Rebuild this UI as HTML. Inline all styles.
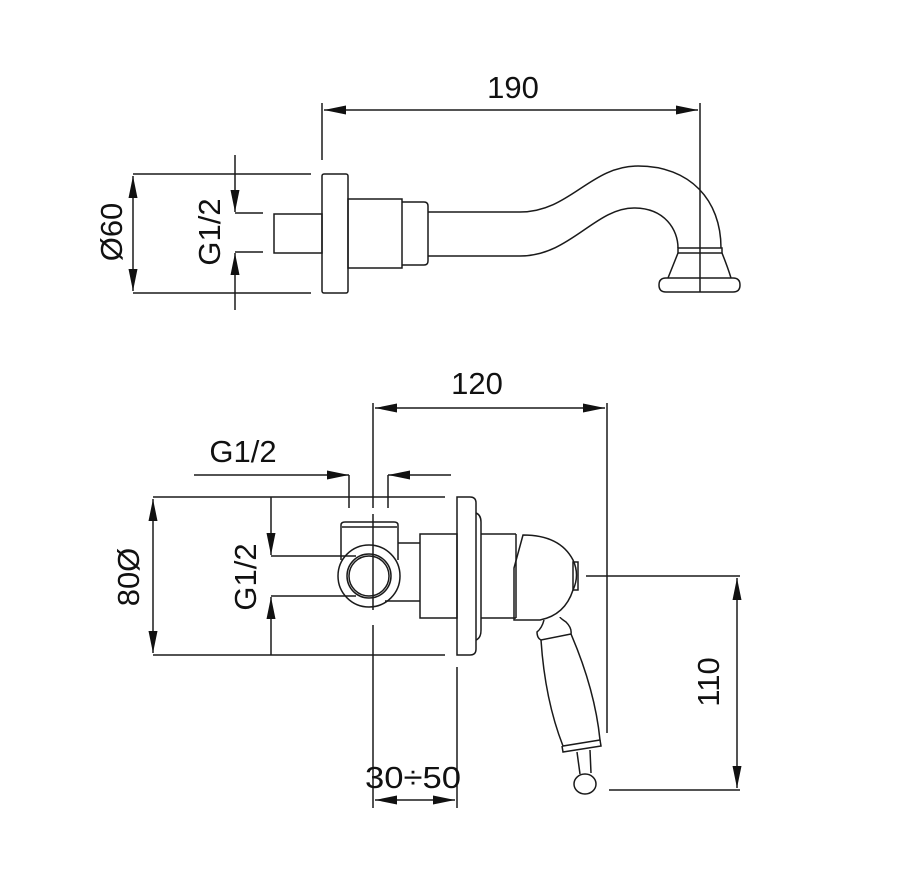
<!DOCTYPE html>
<html><head><meta charset="utf-8"><style>
html,body{margin:0;padding:0;background:#fff;width:900px;height:889px;overflow:hidden}
svg{display:block}
text{font-family:"Liberation Sans",sans-serif;font-size:31px;fill:#111}
</style></head><body>
<svg width="900" height="889" viewBox="0 0 900 889" xmlns="http://www.w3.org/2000/svg">
<defs>
<marker id="a" viewBox="0 0 22 9" refX="22" refY="4.5" markerWidth="22" markerHeight="9" markerUnits="userSpaceOnUse" orient="auto"><path d="M0,0 L22,4.5 L0,9 z" fill="#111"/></marker>
</defs>
<g fill="none" stroke="#1a1a1a" stroke-width="1.5">
<line x1="322" y1="103" x2="322" y2="160"/>
<line x1="700" y1="103" x2="700" y2="292"/>
<line x1="511" y1="110" x2="324" y2="110" marker-end="url(#a)"/>
<line x1="511" y1="110" x2="698" y2="110" marker-end="url(#a)"/>
<line x1="133" y1="174" x2="311" y2="174"/>
<line x1="133" y1="293" x2="311" y2="293"/>
<line x1="133" y1="233" x2="133" y2="176" marker-end="url(#a)"/>
<line x1="133" y1="233" x2="133" y2="291" marker-end="url(#a)"/>
<line x1="235" y1="155" x2="235" y2="212" marker-end="url(#a)"/>
<line x1="235" y1="310" x2="235" y2="253" marker-end="url(#a)"/>
<line x1="235" y1="213" x2="263" y2="213"/>
<line x1="235" y1="252" x2="263" y2="252"/>
<rect x="274" y="214" width="48" height="39"/>
<rect x="322" y="174" width="26" height="119" rx="2"/>
<rect x="348" y="199" width="54" height="69"/>
<path d="M402,202 H424 Q428,202 428,206 V261 Q428,265 424,265 H402"/>
<path d="M428,212 H520 C570,212 590,166 638,166 C690,166 721,200 721,248"/>
<path d="M428,256 H520 C570,256 595,208 634,208 C665,208 678,230 678,248"/>
<rect x="678" y="248" width="44" height="5"/>
<path d="M678,253 Q672,268 668,278 M722,253 Q728,268 731,278"/>
<path d="M666,278 H733 Q740,278 740,285 Q740,292 733,292 H666 Q659,292 659,285 Q659,278 666,278 Z"/>
<line x1="373" y1="403" x2="373" y2="508"/>
<line x1="373" y1="514" x2="373" y2="610"/>
<line x1="373" y1="625" x2="373" y2="808"/>
<line x1="607" y1="403" x2="607" y2="733"/>
<line x1="490" y1="408" x2="375" y2="408" marker-end="url(#a)"/>
<line x1="490" y1="408" x2="605" y2="408" marker-end="url(#a)"/>
<line x1="194" y1="475" x2="349" y2="475" marker-end="url(#a)"/>
<line x1="451" y1="475" x2="388" y2="475" marker-end="url(#a)"/>
<line x1="349" y1="475" x2="349" y2="508"/>
<line x1="388" y1="475" x2="388" y2="508"/>
<line x1="153" y1="497" x2="445" y2="497"/>
<line x1="153" y1="655" x2="445" y2="655"/>
<line x1="153" y1="576" x2="153" y2="499" marker-end="url(#a)"/>
<line x1="153" y1="576" x2="153" y2="653" marker-end="url(#a)"/>
<line x1="271" y1="497" x2="271" y2="555" marker-end="url(#a)"/>
<line x1="271" y1="655" x2="271" y2="597" marker-end="url(#a)"/>
<line x1="271" y1="556" x2="356" y2="556"/>
<line x1="271" y1="596" x2="356" y2="596"/>
<path d="M457,497 H470 Q476,497 476,503 V649 Q476,655 470,655 H457 Z"/>
<path d="M476,513 Q481,515 481,522 V630 Q481,638 476,640"/>
<path d="M341,560 V525 Q341,522 345,522 H394 Q398,522 398,525 V560"/>
<line x1="342" y1="527" x2="397" y2="527"/>
<circle cx="369" cy="576" r="31"/>
<circle cx="369" cy="576" r="22"/>
<circle cx="369" cy="576" r="20"/>
<line x1="398" y1="543" x2="420" y2="543"/>
<line x1="385" y1="601" x2="420" y2="601"/>
<rect x="420" y="534" width="37" height="84"/>
<line x1="481" y1="534" x2="516" y2="534"/>
<line x1="481" y1="618" x2="516" y2="618"/>
<line x1="516" y1="534" x2="516" y2="618"/>
<path d="M514,620 V568 L523,535 Q560,535 573,560 Q580,575 573,590 Q565,615 540,620 Z"/>
<rect x="573" y="562" width="5" height="28"/>
<line x1="586" y1="576" x2="740" y2="576"/>
<line x1="609" y1="790" x2="740" y2="790"/>
<line x1="737" y1="683" x2="737" y2="578" marker-end="url(#a)"/>
<line x1="737" y1="683" x2="737" y2="788" marker-end="url(#a)"/>
<path d="M544,620 Q542,628 537,632 Q537,638 541,640 L571,634 Q572,628 566,622 Q560,618 560,617"/>
<path d="M541,640 Q545,700 563,746 L600,740 Q595,690 571,634"/>
<path d="M562,746 L563,752 L601,746 L600,740"/>
<path d="M577,752 L580,774 M590,750 L591,773"/>
<ellipse cx="585" cy="784" rx="11" ry="10"/>
<line x1="457" y1="667" x2="457" y2="808"/>
<line x1="415" y1="800" x2="375" y2="800" marker-end="url(#a)"/>
<line x1="415" y1="800" x2="455" y2="800" marker-end="url(#a)"/>
</g>
<g stroke="none">
<text x="513" y="98" text-anchor="middle">190</text>
<text transform="translate(122,232) rotate(-90)" text-anchor="middle">Ø60</text>
<text transform="translate(220,232) rotate(-90)" text-anchor="middle">G1/2</text>
<text x="477" y="394" text-anchor="middle">120</text>
<text x="243" y="462" text-anchor="middle">G1/2</text>
<text transform="translate(139,577) rotate(-90)" text-anchor="middle">80Ø</text>
<text transform="translate(256,577) rotate(-90)" text-anchor="middle">G1/2</text>
<text transform="translate(719,682) rotate(-90)" text-anchor="middle">110</text>
<text x="413" y="788" text-anchor="middle" textLength="96" lengthAdjust="spacingAndGlyphs">30÷50</text>
</g>
</svg>
</body></html>
